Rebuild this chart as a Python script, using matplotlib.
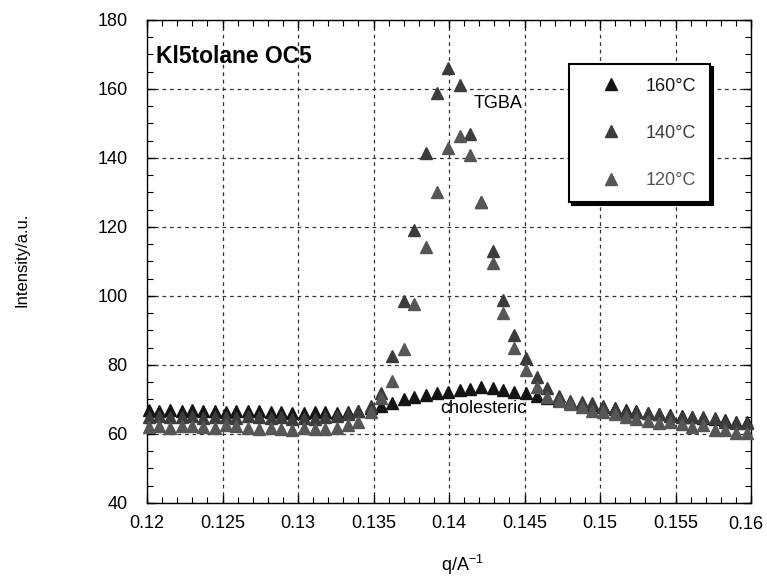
import matplotlib
matplotlib.use("Agg")
import matplotlib.pyplot as plt
from matplotlib.ticker import MultipleLocator, FixedLocator

plt.rcParams['font.family'] = ['Liberation Sans', 'DejaVu Sans']
plt.rcParams['mathtext.fontset'] = 'custom'
plt.rcParams['mathtext.rm'] = 'Liberation Sans'
plt.rcParams['mathtext.it'] = 'Liberation Sans'

q = [0.1201, 0.1208, 0.1215, 0.1223, 0.1230, 0.1237, 0.1245, 0.1252, 0.1259, 0.1267,
     0.1274, 0.1282, 0.1289, 0.1296, 0.1304, 0.1311, 0.1318, 0.1326, 0.1333, 0.1340,
     0.1348, 0.1355, 0.1362, 0.1370, 0.1377, 0.1385, 0.1392, 0.1399, 0.1407, 0.1414,
     0.1421, 0.1429, 0.1436, 0.1443, 0.1451, 0.1458, 0.1465, 0.1473, 0.1480, 0.1488,
     0.1495, 0.1502, 0.1510, 0.1517, 0.1524, 0.1532, 0.1539, 0.1546, 0.1554, 0.1561,
     0.1568, 0.1576, 0.1583, 0.1590, 0.1597]

i160 = [67.0, 66.8, 67.0, 66.8, 66.9, 66.7, 66.6, 66.5, 66.8, 66.6,
        66.7, 66.3, 66.5, 66.2, 66.1, 66.4, 66.5, 66.2, 66.5, 66.8,
        67.5, 68.0, 68.9, 70.0, 70.8, 71.4, 72.0, 72.3, 72.7, 73.1,
        73.5, 73.3, 72.7, 72.3, 71.8, 71.1, 70.4, 69.8, 69.2, 68.7,
        68.3, 67.8, 67.4, 67.0, 66.6, 66.2, 65.8, 65.5, 65.2, 65.0,
        64.7, 64.3, 64.0, 63.6, 63.4]

i140 = [65.0, 65.2, 64.8, 65.0, 65.1, 64.7, 64.9, 65.0, 64.6, 65.2,
        64.8, 64.5, 64.9, 64.4, 64.6, 64.3, 64.8, 65.2, 65.8, 66.8,
        68.2, 71.8, 82.6, 98.6, 119.1, 141.4, 158.8, 166.1, 161.2, 147.0,
        127.2, 113.0, 98.8, 88.7, 82.0, 76.5, 73.3, 71.0, 69.5, 69.3,
        68.9, 68.0, 67.2, 66.4, 66.4, 66.2, 65.8, 65.2, 65.0, 65.0,
        64.8, 64.6, 63.5, 63.2, 63.2]

i120 = [62.0, 62.3, 61.8, 62.2, 62.4, 62.0, 61.8, 62.5, 62.2, 61.6,
        61.5, 61.8, 61.4, 61.2, 61.6, 61.3, 61.5, 61.8, 62.5, 63.4,
        66.5, 70.4, 75.3, 84.6, 97.7, 114.2, 130.1, 142.9, 146.4, 140.9,
        127.2, 109.6, 95.0, 84.9, 78.5, 73.5, 70.7, 69.6, 68.7, 67.9,
        66.7, 66.3, 65.8, 65.0, 64.3, 63.8, 63.3, 63.5, 62.9, 62.0,
        62.6, 61.2, 61.2, 60.3, 60.3]

labels = ['160°C', '140°C', '120°C']
colors = ['#141414', '#3c3c3c', '#565656']

x_ticks = [0.12, 0.125, 0.13, 0.135, 0.14, 0.145, 0.15, 0.155, 0.16]
x_tick_labels = ['0.12', '0.125', '0.13', '0.135', '0.14', '0.145', '0.15', '0.155', '0.16']
y_ticks = [40, 60, 80, 100, 120, 140, 160, 180]

fig = plt.figure(figsize=(7.67, 5.79), dpi=100)
ax = fig.add_axes([0.1917, 0.1313, 0.7875, 0.8342])

for vals, lab, col in zip([i160, i140, i120], labels, colors):
    ax.plot(q, vals, linestyle='none', marker='^', markersize=8.5,
            color=col, markeredgecolor=col, label=lab, clip_on=False, zorder=3)

ax.set_xlim(0.12, 0.16)
ax.set_ylim(40, 180)
ax.xaxis.set_major_locator(FixedLocator(x_ticks))
# last label drawn separately, nudged a few pixels left to stay on the canvas
ax.set_xticklabels(x_tick_labels[:-1] + [''], fontsize=13)
ax.annotate(x_tick_labels[-1], xy=(x_ticks[-1], 0), xycoords=('data', 'axes fraction'),
            xytext=(-4, -9.6), textcoords='offset points', ha='center', va='top',
            fontsize=13, annotation_clip=False)
ax.xaxis.set_minor_locator(MultipleLocator(0.001))
ax.yaxis.set_major_locator(FixedLocator(y_ticks))
ax.yaxis.set_minor_locator(MultipleLocator(5))
for t in ax.get_yticklabels():
    t.set_fontsize(13)

ax.tick_params(which='both', direction='in', top=True, right=True, color='black')
ax.tick_params(which='major', length=6, width=1)
ax.tick_params(which='minor', length=4, width=0.8)
ax.tick_params(axis='y', pad=14)
ax.tick_params(axis='x', pad=9)

ax.set_axisbelow(True)
ax.grid(which='major', linestyle=(0, (3, 3)), color='#333333', linewidth=0.9)
for s in ax.spines.values():
    s.set_linewidth(1.0)
    s.set_color('black')

ax.set_ylabel('Intensity/a.u.', fontsize=12)
ax.yaxis.set_label_coords(-0.195, 0.503)
ax.set_xlabel('q/A$^{-1}$', fontsize=13)
ax.xaxis.set_label_coords(0.523, -0.104)

ax.text(0.1206, 169.3, 'Kl5tolane OC5', fontsize=16.5, fontweight='bold',
        ha='left', va='center')
ax.text(0.1416, 155.9, 'TGBA', fontsize=13, ha='left', va='center')
ax.text(0.1394, 67.5, 'cholesteric', fontsize=13, ha='left', va='center')

leg = ax.legend(loc='upper left', bbox_to_anchor=(0.6987, 0.9089), borderaxespad=0,
                fontsize=13, frameon=True, fancybox=False, numpoints=1,
                handlelength=3.2, handletextpad=0.3, borderpad=0.75, labelspacing=1.67,
                shadow={'color': 'black', 'alpha': 1})
leg.get_frame().set_edgecolor('black')
leg.get_frame().set_linewidth(1.5)
for txt, col in zip(leg.get_texts(), colors):
    txt.set_color(col)

fig.savefig('out.png', dpi=100)
